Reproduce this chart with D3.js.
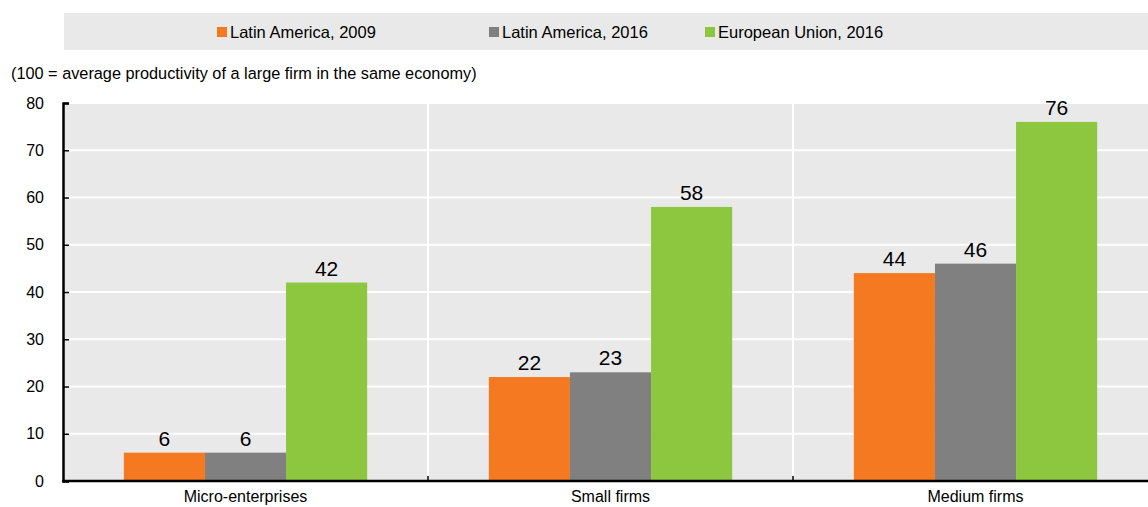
<!DOCTYPE html>
<html>
<head>
<meta charset="utf-8">
<script src="https://cdn.jsdelivr.net/npm/d3@7"></script>
<style>
  body { margin: 0; background: #fff; }
  svg text { font-family: "Liberation Sans", Arial, sans-serif; fill: #000; }
</style>
</head>
<body>
<div id="chart"></div>
<script>
var categories = ["Micro-enterprises", "Small firms", "Medium firms"];
var seriesNames = ["Latin America, 2009", "Latin America, 2016", "European Union, 2016"];
var la2009 = [6, 22, 44];
var la2016 = [6, 23, 46];
var eu2016 = [42, 58, 76];
var yTicks = [0, 10, 20, 30, 40, 50, 60, 70, 80];
var colors = ["#f47920", "#808080", "#8dc63f"];

var width = 1148, height = 507;
var margin = {top: 103, left: 63};
var plotH = 378;
var plotW = width - margin.left;   // visible part
var rangeW = 1095;                 // three bands of 365, last one runs past the edge

var svg = d3.select("#chart")
  .append("svg")
    .attr("width", width)
    .attr("height", height);

// legend band
svg.append("rect")
  .attr("x", 64).attr("y", 13)
  .attr("width", width - 64).attr("height", 37)
  .attr("fill", "#e9e9e9");

var legendX = [217, 489, 705];
seriesNames.forEach(function (name, i) {
  svg.append("rect")
    .attr("x", legendX[i]).attr("y", 27)
    .attr("width", 10).attr("height", 10)
    .attr("fill", colors[i]);
  svg.append("text")
    .attr("x", legendX[i] + 13).attr("y", 38)
    .style("font-size", "16.5px")
    .text(name);
});

svg.append("text")
  .attr("x", 11).attr("y", 79)
  .style("font-size", "16.3px")
  .text("(100 = average productivity of a large firm in the same economy)");

var g = svg.append("g")
  .attr("transform", "translate(" + margin.left + "," + margin.top + ")");

var x = d3.scaleBand().domain(categories).range([0, rangeW]).padding(0);
var xs = d3.scaleBand().domain(seriesNames).range([0, x.bandwidth()]).paddingInner(0).paddingOuter(0.75);
var y = d3.scaleLinear().domain([0, 80]).range([plotH, 0]);

g.append("rect")
  .attr("width", plotW).attr("height", plotH)
  .attr("fill", "#e9e9e9");

// horizontal gridlines
g.selectAll(".hgrid")
  .data(yTicks.slice(1))
  .enter()
    .append("line")
      .attr("x1", 0).attr("x2", plotW)
      .attr("y1", function (d) { return y(d); })
      .attr("y2", function (d) { return y(d); })
      .attr("stroke", "#fff").attr("stroke-width", 2);

// vertical separators
g.selectAll(".vgrid")
  .data(categories.slice(1))
  .enter()
    .append("line")
      .attr("x1", function (d) { return x(d); })
      .attr("x2", function (d) { return x(d); })
      .attr("y1", 0).attr("y2", plotH)
      .attr("stroke", "#fff").attr("stroke-width", 2);

var data = [];
categories.forEach(function (c, i) {
  [la2009, la2016, eu2016].forEach(function (s, j) {
    data.push({cat: c, series: seriesNames[j], value: s[i], color: colors[j]});
  });
});

g.selectAll(".bar")
  .data(data)
  .enter()
    .append("rect")
      .attr("x", function (d) { return x(d.cat) + xs(d.series); })
      .attr("y", function (d) { return y(d.value); })
      .attr("width", xs.bandwidth())
      .attr("height", function (d) { return plotH - y(d.value); })
      .attr("fill", function (d) { return d.color; });

g.selectAll(".lbl")
  .data(data)
  .enter()
    .append("text")
      .attr("x", function (d) { return x(d.cat) + xs(d.series) + xs.bandwidth() / 2; })
      .attr("y", function (d) { return y(d.value) - 7; })
      .attr("text-anchor", "middle")
      .style("font-size", "21px")
      .text(function (d) { return d.value; });

// y axis
var yAxis = g.append("g")
  .call(d3.axisLeft(y).tickValues(yTicks).tickSize(-6).tickPadding(19));
yAxis.select(".domain").attr("stroke", "#000").attr("stroke-width", 2.5);
yAxis.selectAll(".tick line").attr("stroke", "#000").attr("stroke-width", 1.5);
yAxis.selectAll("text").style("font-size", "16px");

// x axis
var xAxis = g.append("g")
  .attr("transform", "translate(0," + plotH + ")");
xAxis.append("line")
  .attr("x1", -1).attr("x2", plotW)
  .attr("stroke", "#000").attr("stroke-width", 2.5);
xAxis.selectAll(".xt")
  .data(categories.slice(1))
  .enter()
    .append("line")
      .attr("x1", function (d) { return x(d); })
      .attr("x2", function (d) { return x(d); })
      .attr("y1", 0).attr("y2", -5)
      .attr("stroke", "#000").attr("stroke-width", 1.5);
xAxis.selectAll(".xl")
  .data(categories)
  .enter()
    .append("text")
      .attr("x", function (d) { return x(d) + x.bandwidth() / 2; })
      .attr("y", 21)
      .attr("text-anchor", "middle")
      .style("font-size", "16px")
      .text(function (d) { return d; });
</script>
</body>
</html>
